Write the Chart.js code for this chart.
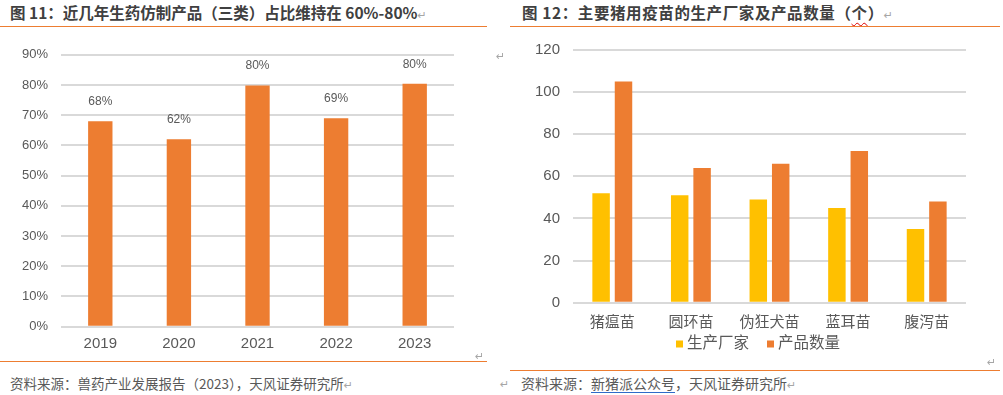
<!DOCTYPE html>
<html>
<head>
<meta charset="utf-8">
<script src="https://cdn.jsdelivr.net/npm/chart.js@4.4.0/dist/chart.umd.min.js"></script>
<style>
  html, body { margin: 0; padding: 0; background: #ffffff; }
  body { width: 1003px; height: 395px; position: relative; overflow: hidden;
         font-family: "Liberation Sans", "Noto Sans CJK SC", sans-serif; }
  .abs { position: absolute; white-space: nowrap; }
  .title { font-family: "Noto Sans CJK SC", sans-serif; font-weight: bold; font-size: 15.5px; color: #404040; line-height: 20px; }
  .src { font-family: "Noto Sans CJK SC", sans-serif; font-size: 13.5px; color: #595959; line-height: 18px; }
  .rule { position: absolute; height: 1.5px; background: #ED7D31; }
  .ret { position: absolute; font-family: "DejaVu Sans", sans-serif; font-size: 11px; color: #A6A6A6; line-height: 12px; }
  .wavy { text-decoration: underline wavy #E00000; text-decoration-thickness: 1px; text-underline-offset: 3px; }
  .link { text-decoration: underline #2F6BC8; text-underline-offset: 3px; }
  canvas { position: absolute; }
</style>
</head>
<body>
<div class="abs title" style="left:10px; top:2px;">图 11：近几年生药仿制产品（三类）占比维持在 60%-80%<span style="font-family:'DejaVu Sans';font-weight:normal;font-size:11px;color:#A6A6A6">↵</span></div>
<div class="rule" style="left:0px; top:25.5px; width:487px;"></div>

<div class="abs title" style="left:522px; top:2px; letter-spacing:0.6px;">图 12：主要猪用疫苗的生产厂家及产品数量（<span class="wavy">个</span>）<span style="font-family:'DejaVu Sans';font-weight:normal;font-size:11px;color:#A6A6A6">↵</span></div>
<div class="rule" style="left:510px; top:25.5px; width:490px;"></div>

<canvas id="c1" width="487" height="322" style="left:0px; top:40px;"></canvas>
<canvas id="c2" width="495" height="325" style="left:505px; top:35px;"></canvas>

<div class="ret" style="left:496px; top:51px;">↵</div>
<div class="ret" style="left:475px; top:351px;">↵</div>
<div class="ret" style="left:987px; top:357px;">↵</div>

<div class="rule" style="left:0px; top:360.5px; width:487px;"></div>
<div class="rule" style="left:510px; top:369.5px; width:490px;"></div>

<div class="abs src" style="left:10px; top:374px;">资料来源：兽药产业发展报告（2023），天风证券研究所<span style="font-family:'DejaVu Sans';font-size:11px;color:#A6A6A6">↵</span></div>
<div class="ret" style="left:500px; top:379px;">↵</div>
<div class="abs src" style="left:521px; top:374px; font-size:14px;">资料来源：<span class="link">新猪派公众号</span>，天风证券研究所<span style="font-family:'DejaVu Sans';font-size:11px;color:#A6A6A6">↵</span></div>

<script>
// ---- Data: chart 1 ----
const years = ['2019', '2020', '2021', '2022', '2023'];
const sharePercent = [68, 62, 79.8, 69, 80.4];
const shareMax = 90;
const shareStep = 10;

// ---- Data: chart 2 ----
const vaccines = ['猪瘟苗', '圆环苗', '伪狂犬苗', '蓝耳苗', '腹泻苗'];
const manufacturers = [52, 51, 49, 45, 35];
const products = [105, 64, 66, 72, 48];
const seriesNames = ['生产厂家', '产品数量'];
const countMax = 120;
const countStep = 20;

const ORANGE = '#ED7D31';
const YELLOW = '#FFC000';
const GRID = '#D9D9D9';
const TEXT = '#595959';
const FONT = '"Liberation Sans", "Noto Sans CJK SC", sans-serif';

function noPad(s) { s.paddingTop = 0; s.paddingBottom = 0; s.paddingLeft = 0; s.paddingRight = 0; }

const labelPlugin = {
  id: 'barLabels',
  afterDatasetsDraw(chart) {
    const ctx = chart.ctx;
    const meta = chart.getDatasetMeta(0);
    ctx.save();
    ctx.font = '12px ' + FONT;
    ctx.fillStyle = TEXT;
    ctx.textAlign = 'center';
    ctx.textBaseline = 'middle';
    meta.data.forEach((bar, i) => {
      const v = chart.data.datasets[0].data[i];
      ctx.fillText(Math.round(v) + '%', bar.x, bar.y - 19.5);
    });
    ctx.restore();
  }
};

// Legend drawn from the chart's own datasets (label + colour), compact Office style
const compactLegend = {
  id: 'compactLegend',
  afterDraw(chart, args, opts) {
    const ctx = chart.ctx;
    const sets = chart.data.datasets;
    ctx.save();
    ctx.font = opts.fontSize + 'px ' + FONT;
    ctx.textBaseline = 'middle';
    ctx.textAlign = 'left';
    const widths = sets.map(d => opts.box + opts.textGap + ctx.measureText(d.label).width);
    const total = widths.reduce((a, b) => a + b, 0) + opts.itemGap * (sets.length - 1);
    let x = opts.centerX - total / 2;
    const y = opts.centerY;
    sets.forEach((d, i) => {
      ctx.fillStyle = d.backgroundColor;
      ctx.fillRect(x, y - opts.box / 2, opts.box, opts.box);
      ctx.fillStyle = TEXT;
      ctx.fillText(d.label, x + opts.box + opts.textGap, y);
      x += widths[i] + opts.itemGap;
    });
    ctx.restore();
  }
};

new Chart(document.getElementById('c1'), {
  type: 'bar',
  data: {
    labels: years,
    datasets: [{
      data: sharePercent,
      backgroundColor: ORANGE,
      borderWidth: 0,
      barPercentage: 0.31,
      categoryPercentage: 1.0
    }]
  },
  options: {
    responsive: false,
    animation: false,
    layout: { padding: { top: 14.7, right: 33, left: 0, bottom: 0 } },
    plugins: { legend: { display: false }, tooltip: { enabled: false } },
    scales: {
      x: {
        grid: { display: false, drawTicks: false },
        border: { display: false },
        ticks: { color: TEXT, font: { size: 15, family: FONT }, padding: 8, maxRotation: 0 },
        afterFit(s) { s.height = 35.3; noPad(s); }
      },
      y: {
        min: 0, max: shareMax,
        grid: { color: GRID, lineWidth: 2, drawTicks: false },
        border: { display: false },
        ticks: { stepSize: shareStep, color: TEXT, font: { size: 13, family: FONT }, padding: 13,
                 callback: v => v + '%' },
        afterFit(s) { s.width = 61; noPad(s); }
      }
    }
  },
  plugins: [labelPlugin]
});

new Chart(document.getElementById('c2'), {
  type: 'bar',
  data: {
    labels: vaccines,
    datasets: [
      { label: seriesNames[0], data: manufacturers, backgroundColor: YELLOW, borderWidth: 0,
        barPercentage: 0.78, categoryPercentage: 0.57 },
      { label: seriesNames[1], data: products, backgroundColor: ORANGE, borderWidth: 0,
        barPercentage: 0.78, categoryPercentage: 0.57 }
    ]
  },
  options: {
    responsive: false,
    animation: false,
    layout: { padding: { top: 15, right: 34, left: 0, bottom: 27.3 } },
    plugins: {
      tooltip: { enabled: false },
      legend: { display: false },
      compactLegend: { centerX: 253, centerY: 309, box: 7, textGap: 4, itemGap: 18, fontSize: 15.5 }
    },
    scales: {
      x: {
        grid: { display: false, drawTicks: false },
        border: { display: false },
        ticks: { color: TEXT, font: { size: 15, family: FONT }, padding: 11, maxRotation: 0 },
        afterFit(s) { s.height = 30; noPad(s); }
      },
      y: {
        min: 0, max: countMax,
        grid: { color: GRID, lineWidth: 2, drawTicks: false },
        border: { display: false },
        ticks: { stepSize: countStep, color: TEXT, font: { size: 15, family: FONT }, padding: 13 },
        afterFit(s) { s.width = 68; noPad(s); }
      }
    }
  },
  plugins: [compactLegend]
});
</script>
</body>
</html>
